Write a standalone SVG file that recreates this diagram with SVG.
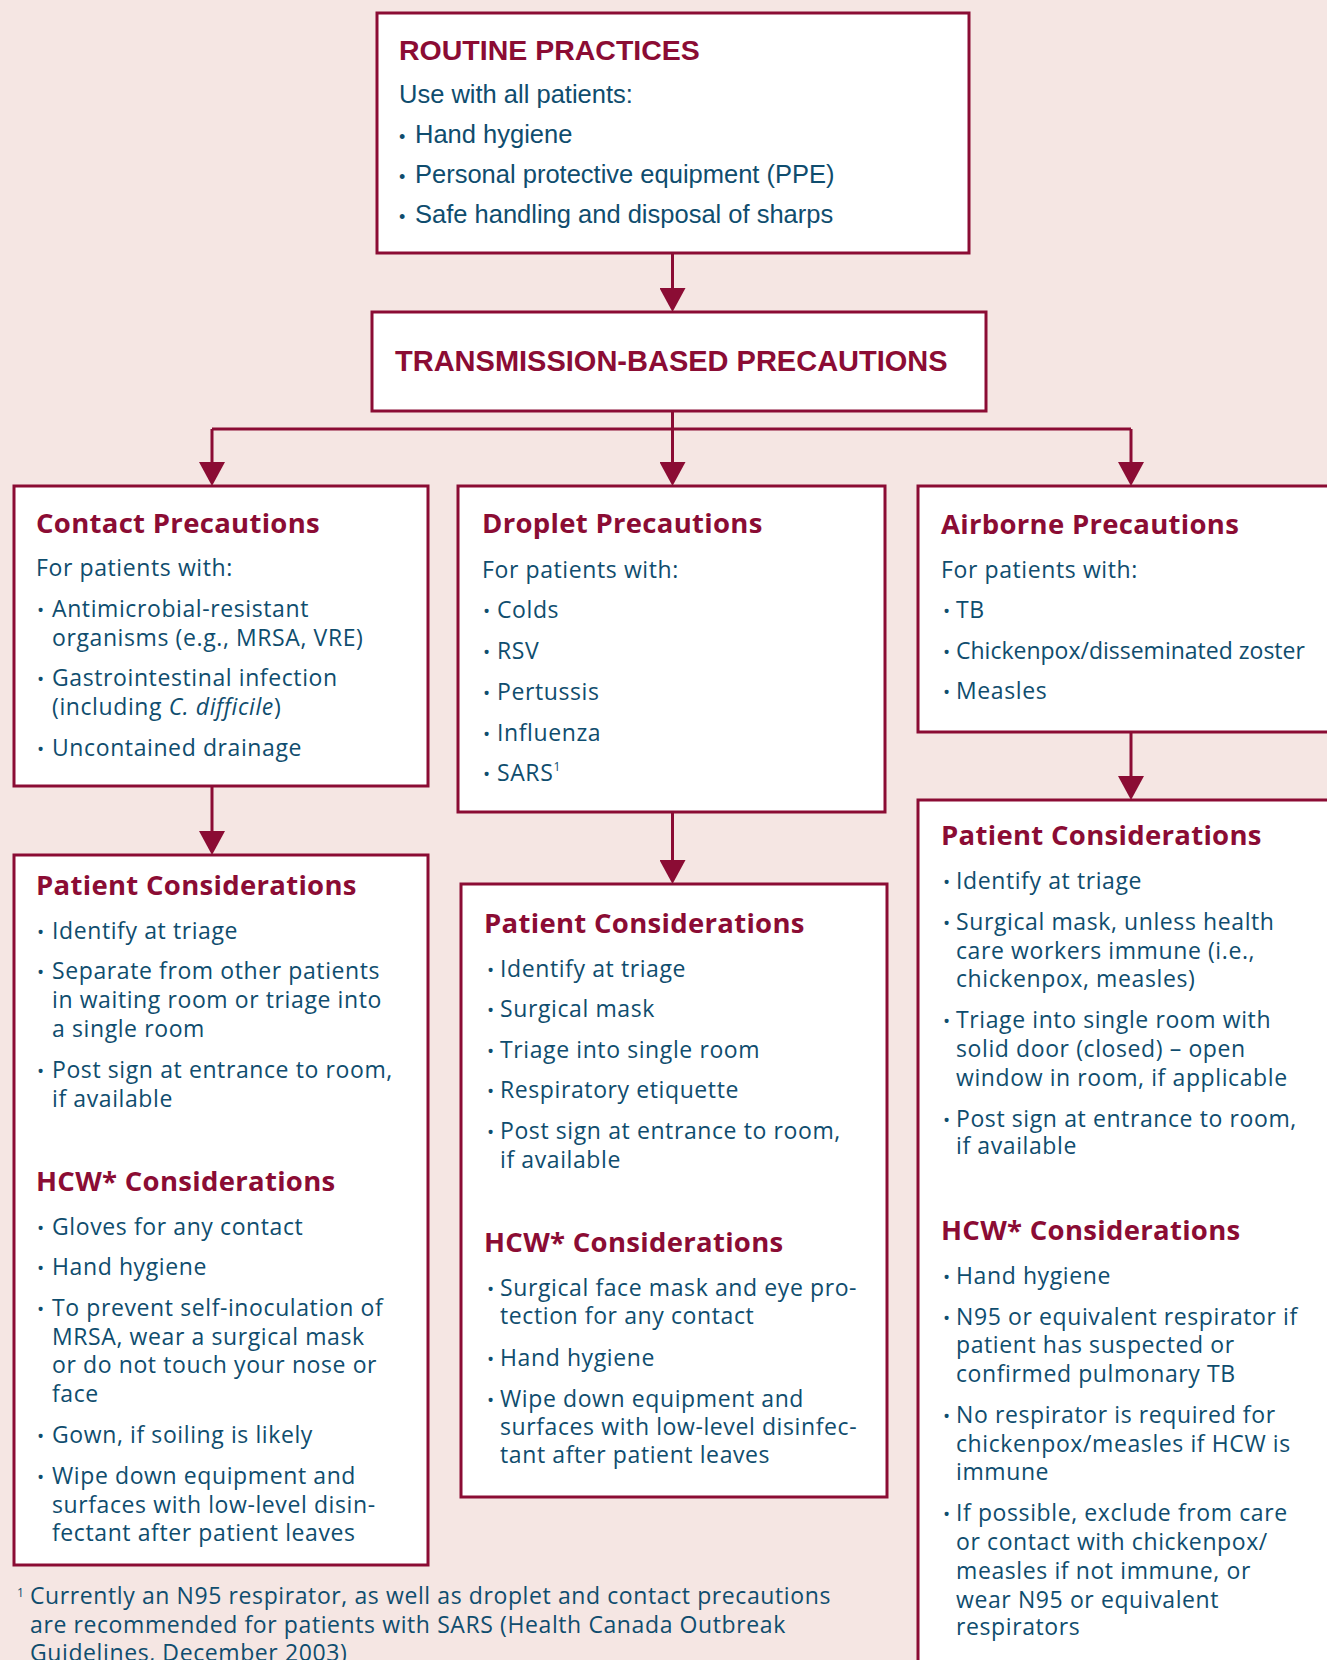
<svg xmlns="http://www.w3.org/2000/svg" width="1327" height="1660" viewBox="0 0 1327 1660">
<defs>
<style>
.box{fill:#ffffff;stroke:#8b0c34;stroke-width:3}
.cn{fill:none;stroke:#8b0c34;stroke-width:3}
.h{font-family:"Liberation Sans",Arial,sans-serif;font-weight:bold;font-size:28.5px;fill:#8b0c34}
.rb{font-family:"Liberation Sans",Arial,sans-serif;font-size:25.5px;fill:#0f4d6e}
.t{font-family:"Open Sans","DejaVu Sans",sans-serif;font-weight:bold;font-size:27.5px;fill:#8b0c34;letter-spacing:0.3px}
.b{font-family:"Open Sans","DejaVu Sans",sans-serif;font-size:23px;fill:#0f4d6e;letter-spacing:0.6px}
.bl{font-size:19px;letter-spacing:0}
.sup{font-size:12px}
</style>
<marker id="ah" markerUnits="userSpaceOnUse" viewBox="0 0 24 26" markerWidth="24" markerHeight="26" refX="14" refY="13" orient="auto">
<path d="M0,0 L24,13 L0,26 Z" fill="#8b0c34"/>
</marker>
</defs>
<rect x="0" y="0" width="1327" height="1660" fill="#f5e6e3"/>

<g id="connectors">
<path class="cn" d="M672.5,253 V302" marker-end="url(#ah)"/>
<path class="cn" d="M672.5,411 V476" marker-end="url(#ah)"/>
<path class="cn" d="M212,429 H1131"/>
<path class="cn" d="M212,429 V476" marker-end="url(#ah)"/>
<path class="cn" d="M1131,429 V476" marker-end="url(#ah)"/>
<path class="cn" d="M212,786 V845" marker-end="url(#ah)"/>
<path class="cn" d="M672.5,812 V874" marker-end="url(#ah)"/>
<path class="cn" d="M1131,732 V790" marker-end="url(#ah)"/>
</g>

<g id="routine">
<rect class="box" x="377" y="13" width="592" height="240"/>
<text class="h" x="399" y="60">ROUTINE PRACTICES</text>
<text class="rb" x="399" y="103">Use with all patients:</text>
<text class="rb" x="399" y="143"><tspan style="font-size:18px">•</tspan><tspan x="415">Hand hygiene</tspan></text>
<text class="rb" x="399" y="183"><tspan style="font-size:18px">•</tspan><tspan x="415">Personal protective equipment (PPE)</tspan></text>
<text class="rb" x="399" y="223"><tspan style="font-size:18px">•</tspan><tspan x="415">Safe handling and disposal of sharps</tspan></text>
</g>

<g id="transmission">
<rect class="box" x="372" y="312" width="614" height="99"/>
<text class="h" x="395" y="371" style="font-size:29px">TRANSMISSION-BASED PRECAUTIONS</text>
</g>

<g id="contact">
<rect class="box" x="14" y="486" width="414" height="300"/>
<text class="t" x="36" y="533">Contact Precautions</text>
<text class="b" x="36" y="576">For patients with:</text>
<text class="b" x="37" y="617"><tspan class="bl">•</tspan><tspan x="52">Antimicrobial-resistant</tspan></text>
<text class="b" x="52" y="646">organisms (e.g., MRSA, VRE)</text>
<text class="b" x="37" y="686"><tspan class="bl">•</tspan><tspan x="52">Gastrointestinal infection</tspan></text>
<text class="b" x="52" y="715">(including <tspan font-style="italic">C. difficile</tspan>)</text>
<text class="b" x="37" y="756"><tspan class="bl">•</tspan><tspan x="52">Uncontained drainage</tspan></text>
</g>

<g id="droplet">
<rect class="box" x="458" y="486" width="427" height="326"/>
<text class="t" x="482" y="533">Droplet Precautions</text>
<text class="b" x="482" y="578">For patients with:</text>
<text class="b" x="483" y="618"><tspan class="bl">•</tspan><tspan x="497">Colds</tspan></text>
<text class="b" x="483" y="659"><tspan class="bl">•</tspan><tspan x="497">RSV</tspan></text>
<text class="b" x="483" y="700"><tspan class="bl">•</tspan><tspan x="497">Pertussis</tspan></text>
<text class="b" x="483" y="741"><tspan class="bl">•</tspan><tspan x="497">Influenza</tspan></text>
<text class="b" x="483" y="781"><tspan class="bl">•</tspan><tspan x="497">SARS</tspan><tspan class="sup" dy="-10">1</tspan></text>
</g>

<g id="airborne">
<rect class="box" x="918" y="486" width="420" height="246"/>
<text class="t" x="941" y="534">Airborne Precautions</text>
<text class="b" x="941" y="578">For patients with:</text>
<text class="b" x="943" y="618"><tspan class="bl">•</tspan><tspan x="956">TB</tspan></text>
<text class="b" x="943" y="659"><tspan class="bl">•</tspan><tspan x="956" style="letter-spacing:0">Chickenpox/disseminated zoster</tspan></text>
<text class="b" x="943" y="699"><tspan class="bl">•</tspan><tspan x="956">Measles</tspan></text>
</g>

<g id="contact-considerations">
<rect class="box" x="14" y="855" width="414" height="710"/>
<text class="t" x="36" y="895">Patient Considerations</text>
<text class="b" x="37" y="939"><tspan class="bl">•</tspan><tspan x="52">Identify at triage</tspan></text>
<text class="b" x="37" y="979"><tspan class="bl">•</tspan><tspan x="52">Separate from other patients</tspan></text>
<text class="b" x="52" y="1008">in waiting room or triage into</text>
<text class="b" x="52" y="1037">a single room</text>
<text class="b" x="37" y="1078"><tspan class="bl">•</tspan><tspan x="52">Post sign at entrance to room,</tspan></text>
<text class="b" x="52" y="1107">if available</text>
<text class="t" x="36" y="1191">HCW* Considerations</text>
<text class="b" x="37" y="1235"><tspan class="bl">•</tspan><tspan x="52">Gloves for any contact</tspan></text>
<text class="b" x="37" y="1275"><tspan class="bl">•</tspan><tspan x="52">Hand hygiene</tspan></text>
<text class="b" x="37" y="1316"><tspan class="bl">•</tspan><tspan x="52">To prevent self-inoculation of</tspan></text>
<text class="b" x="52" y="1345">MRSA, wear a surgical mask</text>
<text class="b" x="52" y="1373">or do not touch your nose or</text>
<text class="b" x="52" y="1402">face</text>
<text class="b" x="37" y="1443"><tspan class="bl">•</tspan><tspan x="52">Gown, if soiling is likely</tspan></text>
<text class="b" x="37" y="1484"><tspan class="bl">•</tspan><tspan x="52">Wipe down equipment and</tspan></text>
<text class="b" x="52" y="1513">surfaces with low-level disin-</text>
<text class="b" x="52" y="1541">fectant after patient leaves</text>
</g>

<g id="droplet-considerations">
<rect class="box" x="461" y="884" width="426" height="613"/>
<text class="t" x="484" y="933">Patient Considerations</text>
<text class="b" x="487" y="977"><tspan class="bl">•</tspan><tspan x="500">Identify at triage</tspan></text>
<text class="b" x="487" y="1017"><tspan class="bl">•</tspan><tspan x="500">Surgical mask</tspan></text>
<text class="b" x="487" y="1058"><tspan class="bl">•</tspan><tspan x="500">Triage into single room</tspan></text>
<text class="b" x="487" y="1098"><tspan class="bl">•</tspan><tspan x="500">Respiratory etiquette</tspan></text>
<text class="b" x="487" y="1139"><tspan class="bl">•</tspan><tspan x="500">Post sign at entrance to room,</tspan></text>
<text class="b" x="500" y="1168">if available</text>
<text class="t" x="484" y="1252">HCW* Considerations</text>
<text class="b" x="487" y="1296"><tspan class="bl">•</tspan><tspan x="500">Surgical face mask and eye pro-</tspan></text>
<text class="b" x="500" y="1324">tection for any contact</text>
<text class="b" x="487" y="1366"><tspan class="bl">•</tspan><tspan x="500">Hand hygiene</tspan></text>
<text class="b" x="487" y="1407"><tspan class="bl">•</tspan><tspan x="500">Wipe down equipment and</tspan></text>
<text class="b" x="500" y="1435">surfaces with low-level disinfec-</text>
<text class="b" x="500" y="1463">tant after patient leaves</text>
</g>

<g id="airborne-considerations">
<rect class="box" x="918" y="800" width="420" height="900"/>
<text class="t" x="941" y="845">Patient Considerations</text>
<text class="b" x="943" y="889"><tspan class="bl">•</tspan><tspan x="956">Identify at triage</tspan></text>
<text class="b" x="943" y="930"><tspan class="bl">•</tspan><tspan x="956">Surgical mask, unless health</tspan></text>
<text class="b" x="956" y="959">care workers immune (i.e.,</text>
<text class="b" x="956" y="987">chickenpox, measles)</text>
<text class="b" x="943" y="1028"><tspan class="bl">•</tspan><tspan x="956">Triage into single room with</tspan></text>
<text class="b" x="956" y="1057">solid door (closed) – open</text>
<text class="b" x="956" y="1086">window in room, if applicable</text>
<text class="b" x="943" y="1127"><tspan class="bl">•</tspan><tspan x="956">Post sign at entrance to room,</tspan></text>
<text class="b" x="956" y="1154">if available</text>
<text class="t" x="941" y="1240">HCW* Considerations</text>
<text class="b" x="943" y="1284"><tspan class="bl">•</tspan><tspan x="956">Hand hygiene</tspan></text>
<text class="b" x="943" y="1325"><tspan class="bl">•</tspan><tspan x="956">N95 or equivalent respirator if</tspan></text>
<text class="b" x="956" y="1353">patient has suspected or</text>
<text class="b" x="956" y="1382">confirmed pulmonary TB</text>
<text class="b" x="943" y="1423"><tspan class="bl">•</tspan><tspan x="956">No respirator is required for</tspan></text>
<text class="b" x="956" y="1452">chickenpox/measles if HCW is</text>
<text class="b" x="956" y="1480">immune</text>
<text class="b" x="943" y="1521"><tspan class="bl">•</tspan><tspan x="956">If possible, exclude from care</tspan></text>
<text class="b" x="956" y="1550">or contact with chickenpox/</text>
<text class="b" x="956" y="1579">measles if not immune, or</text>
<text class="b" x="956" y="1608">wear N95 or equivalent</text>
<text class="b" x="956" y="1635">respirators</text>
</g>

<g id="footnote">
<text class="b" x="17" y="1597" style="font-size:12px;letter-spacing:0">1</text>
<text class="b" x="30" y="1604">Currently an N95 respirator, as well as droplet and contact precautions</text>
<text class="b" x="30" y="1633">are recommended for patients with SARS (Health Canada Outbreak</text>
<text class="b" x="30" y="1661">Guidelines, December 2003)</text>
</g>
</svg>
